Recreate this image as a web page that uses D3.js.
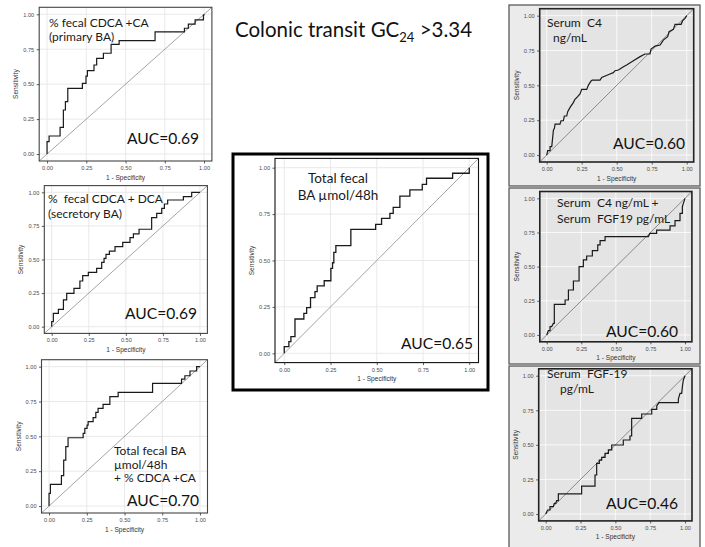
<!DOCTYPE html>
<html><head><meta charset="utf-8">
<script src="https://cdn.jsdelivr.net/npm/d3@7"></script>
<style>
body{margin:0;background:#fff}
svg{display:block}
text{white-space:pre}
</style>
</head><body>
<svg id="c" width="705" height="547"></svg>
<script>
// ---- data ----
const tickValues = [0, 0.25, 0.5, 0.75, 1];
const tickLabels = ["0.00", "0.25", "0.50", "0.75", "1.00"];
const xAxisTitle = "1 - Specificity";
const yAxisTitle = "Sensitivity";

// step ROC curves: [fpr, tpr] at the top of every vertical rise
const rocPrimaryBA = [[0,0],[0,0.088],[0.013,0.129],[0.083,0.191],[0.104,0.315],[0.117,0.375],[0.132,0.47],[0.225,0.506],[0.248,0.558],[0.257,0.597],[0.299,0.637],[0.316,0.685],[0.359,0.721],[0.408,0.785],[0.459,0.811],[0.688,0.874],[0.875,0.9],[0.9,0.93],[0.943,0.96],[0.996,0.995],[1,1]];
const rocSecretoryBA = [[0,0],[0,0.037],[0.011,0.099],[0.045,0.129],[0.079,0.199],[0.101,0.248],[0.15,0.285],[0.19,0.34],[0.209,0.38],[0.247,0.404],[0.303,0.434],[0.337,0.479],[0.353,0.509],[0.366,0.538],[0.389,0.563],[0.427,0.596],[0.479,0.628],[0.528,0.663],[0.551,0.69],[0.589,0.725],[0.674,0.811],[0.708,0.844],[0.742,0.881],[0.76,0.913],[0.782,0.943],[0.888,0.968],[0.944,1],[1,1]];
const rocTotalPlusPrimary = [[0,0],[0,0.091],[0.009,0.155],[0.082,0.218],[0.097,0.33],[0.111,0.426],[0.126,0.49],[0.226,0.522],[0.237,0.557],[0.252,0.581],[0.259,0.605],[0.292,0.634],[0.31,0.672],[0.325,0.701],[0.358,0.73],[0.403,0.785],[0.458,0.816],[0.686,0.88],[0.878,0.911],[0.9,0.935],[0.934,0.969],[0.978,1],[1,1]];
const rocTotalBA = [[0,0],[0,0.036],[0.025,0.063],[0.036,0.09],[0.058,0.185],[0.106,0.215],[0.121,0.246],[0.142,0.3],[0.166,0.332],[0.178,0.363],[0.216,0.391],[0.252,0.458],[0.261,0.488],[0.268,0.544],[0.279,0.58],[0.36,0.668],[0.494,0.695],[0.526,0.727],[0.571,0.754],[0.589,0.786],[0.625,0.847],[0.679,0.88],[0.746,0.91],[0.769,0.943],[0.91,0.97],[1,1]];
// ROC curves with ties: every vertex
const rocC4 = [[0,0],[0.007,0.031],[0.024,0.031],[0.024,0.06],[0.036,0.06],[0.048,0.179],[0.055,0.191],[0.06,0.222],[0.095,0.222],[0.102,0.246],[0.119,0.246],[0.126,0.28],[0.143,0.28],[0.15,0.311],[0.167,0.342],[0.19,0.376],[0.202,0.4],[0.221,0.419],[0.238,0.438],[0.25,0.471],[0.286,0.471],[0.298,0.502],[0.317,0.531],[0.326,0.538],[0.381,0.538],[0.393,0.557],[0.452,0.581],[0.476,0.591],[0.488,0.605],[0.512,0.61],[0.548,0.634],[0.571,0.646],[0.619,0.677],[0.667,0.706],[0.702,0.725],[0.738,0.725],[0.745,0.761],[0.774,0.782],[0.81,0.789],[0.833,0.825],[0.864,0.849],[0.874,0.885],[0.905,0.902],[0.917,0.938],[0.96,0.938],[0.971,0.964],[0.988,0.981],[1,1]];
const rocC4FGF19 = [[0,0],[0.012,0.032],[0.024,0.032],[0.024,0.061],[0.036,0.061],[0.048,0.085],[0.055,0.085],[0.055,0.224],[0.133,0.224],[0.133,0.256],[0.157,0.256],[0.157,0.329],[0.193,0.329],[0.193,0.395],[0.234,0.395],[0.234,0.5],[0.265,0.5],[0.265,0.549],[0.289,0.549],[0.289,0.578],[0.33,0.578],[0.33,0.617],[0.369,0.617],[0.369,0.659],[0.386,0.659],[0.386,0.69],[0.422,0.69],[0.422,0.72],[0.735,0.72],[0.747,0.744],[0.795,0.744],[0.795,0.768],[0.892,0.768],[0.892,0.798],[0.928,0.798],[0.928,0.837],[0.964,0.837],[0.964,0.89],[0.981,0.89],[0.981,0.94],[1,1]];
const rocFGF19 = [[0,0],[0.014,0.029],[0.031,0.029],[0.031,0.053],[0.055,0.053],[0.062,0.077],[0.072,0.077],[0.079,0.096],[0.091,0.096],[0.091,0.145],[0.258,0.145],[0.258,0.202],[0.354,0.202],[0.354,0.282],[0.366,0.282],[0.366,0.366],[0.385,0.366],[0.385,0.39],[0.402,0.39],[0.402,0.41],[0.426,0.41],[0.426,0.439],[0.45,0.439],[0.45,0.463],[0.474,0.463],[0.474,0.499],[0.557,0.499],[0.557,0.535],[0.605,0.535],[0.605,0.564],[0.617,0.564],[0.617,0.692],[0.689,0.692],[0.689,0.723],[0.761,0.723],[0.761,0.757],[0.797,0.757],[0.797,0.781],[0.813,0.805],[0.952,0.805],[0.952,0.831],[0.964,0.872],[0.976,0.872],[0.981,0.92],[0.988,0.969],[1,1]];

const panelLabels = [
  ["% fecal CDCA +CA", "(primary BA)"],
  ["%  fecal CDCA + DCA", "(secretory BA)"],
  ["Total fecal BA", "\u00b5mol/48h", "+ % CDCA +CA"],
  ["Total fecal", "BA \u00b5mol/48h"],
  ["Serum  C4", "ng/mL"],
  ["Serum  C4 ng/mL +", "Serum  FGF19 pg/mL"],
  ["Serum  FGF-19", "pg/mL"]
];
const aucLabels = ["AUC=0.69", "AUC=0.69", "AUC=0.70", "AUC=0.65", "AUC=0.60", "AUC=0.60", "AUC=0.46"];

// ---- layout ----
const svg = d3.select("#c");
const FONT = "Lato, 'Open Sans', sans-serif";
const AX = "'Liberation Sans', Arial, sans-serif";

const panels = [
  {data: rocPrimaryBA, step: true, grey: false, r: [39.2, 211.9, 7.3, 161],
   lab: {x: [49, 49], y: [27, 41], size: 12, anchor: "start"}, auc: [199, 144]},
  {data: rocSecretoryBA, step: true, grey: false, r: [44.3, 207.4, 185.6, 333.4],
   lab: {x: [48, 48], y: [203, 218], size: 12, anchor: "start"}, auc: [197, 319]},
  {data: rocTotalPlusPrimary, step: true, grey: false, r: [41.5, 207.5, 359.7, 513],
   lab: {x: [114, 114, 114], y: [455, 468.5, 482], size: 12, anchor: "start"}, auc: [199, 506]},
  {data: rocTotalBA, step: true, grey: false, center: true, r: [275, 478.5, 158.4, 362.6],
   lab: {x: [338, 338], y: [183, 200], size: 13.5, anchor: "middle"}, auc: [473, 349]},
  {data: rocC4, step: false, grey: true, box: [509, 5, 700, 186], r: [539.7, 693.7, 8.7, 162],
   lab: {x: [547, 553], y: [27, 42], size: 12, anchor: "start"}, auc: [685, 149]},
  {data: rocC4FGF19, step: false, grey: true, box: [509, 188, 700, 364], r: [539.8, 691.9, 191.5, 341.8],
   lab: {x: [557, 557], y: [207, 223], size: 12, anchor: "start"}, auc: [678, 337]},
  {data: rocFGF19, step: false, grey: true, box: [509, 366, 700, 550], r: [538.7, 692, 368.8, 520.9],
   lab: {x: [547, 560], y: [378, 393], size: 12, anchor: "start"}, auc: [678, 509]}
];

// center panel thick frame
svg.append("rect").attr("x", 233).attr("y", 154).attr("width", 255).attr("height", 236)
  .attr("fill", "#fff").attr("stroke", "#000").attr("stroke-width", 3);

panels.forEach((p, i) => {
  const [x0, x1, y0, y1] = p.r;
  const g = svg.append("g");
  if (p.box) {
    const [bx0, by0, bx1, by1] = p.box;
    g.append("rect").attr("x", bx0).attr("y", by0).attr("width", bx1 - bx0).attr("height", by1 - by0)
      .attr("fill", "#ebebeb").attr("stroke", "#5a5a5a").attr("stroke-width", 1.3);
  }
  const x = d3.scaleLinear().domain([-0.05, 1.05]).range([x0, x1]);
  const y = d3.scaleLinear().domain([-0.05, 1.05]).range([y1, y0]);

  g.append("rect").attr("x", x0).attr("y", y0).attr("width", x1 - x0).attr("height", y1 - y0)
    .attr("fill", p.grey ? "#e4e4e4" : "#fff");

  const gridColor = p.grey ? "#fafafa" : "#e6e6e6";
  g.append("g").selectAll("line").data(tickValues).join("line")
    .attr("x1", d => x(d)).attr("x2", d => x(d)).attr("y1", y0).attr("y2", y1)
    .attr("stroke", gridColor).attr("stroke-width", 0.9);
  g.append("g").selectAll("line").data(tickValues).join("line")
    .attr("y1", d => y(d)).attr("y2", d => y(d)).attr("x1", x0).attr("x2", x1)
    .attr("stroke", gridColor).attr("stroke-width", 0.9);

  // diagonal reference
  g.append("line").attr("x1", x(-0.05)).attr("y1", y(-0.05)).attr("x2", x(1.05)).attr("y2", y(1.05))
    .attr("stroke", p.grey ? "#808080" : "#9a9a9a").attr("stroke-width", 0.9);

  const line = d3.line().x(d => x(d[0])).y(d => y(d[1]))
    .curve(p.step ? d3.curveStepAfter : d3.curveLinear);
  g.append("path").attr("d", line(p.data)).attr("fill", "none")
    .attr("stroke", "#1a1a1a").attr("stroke-width", p.center ? 1.3 : 1.2);

  g.append("rect").attr("x", x0).attr("y", y0).attr("width", x1 - x0).attr("height", y1 - y0)
    .attr("fill", "none").attr("stroke", p.grey ? "#222" : (p.center ? "#111" : "#444"))
    .attr("stroke-width", p.grey ? 1.6 : 1.1);

  // axes
  const fmt = d => tickLabels[tickValues.indexOf(d)];
  const ax = g.append("g").attr("transform", `translate(0,${y1})`)
    .call(d3.axisBottom(x).tickValues(tickValues).tickFormat(fmt).tickSize(2.5).tickPadding(2.5));
  const ay = g.append("g").attr("transform", `translate(${x0},0)`)
    .call(d3.axisLeft(y).tickValues(tickValues).tickFormat(fmt).tickSize(2.5).tickPadding(2.5));
  [ax, ay].forEach(a => {
    a.select(".domain").remove();
    a.selectAll("line").attr("stroke", "#333").attr("stroke-width", 0.8);
    a.selectAll("text").attr("font-family", AX).attr("font-size", 5.6).attr("fill", "#4d4d4d");
  });

  g.append("text").attr("x", (x0 + x1) / 2).attr("y", y1 + 18.5).attr("text-anchor", "middle")
    .attr("font-family", AX).attr("font-size", 6.6).attr("fill", "#333").text(xAxisTitle);
  g.append("text").attr("transform", `translate(${x0 - 21},${(y0 + y1) / 2}) rotate(-90)`)
    .attr("text-anchor", "middle").attr("font-family", AX).attr("font-size", 6.6).attr("fill", "#333")
    .text(yAxisTitle);

  // annotations
  panelLabels[i].forEach((t, k) => {
    g.append("text").attr("x", p.lab.x[k]).attr("y", p.lab.y[k]).attr("text-anchor", p.lab.anchor)
      .attr("font-family", FONT).attr("font-size", p.lab.size).attr("fill", "#1a1a1a").text(t);
  });
  g.append("text").attr("x", p.auc[0]).attr("y", p.auc[1]).attr("text-anchor", "end")
    .attr("font-family", FONT).attr("font-size", 15.6).attr("fill", "#111").text(aucLabels[i]);
});

// main title
const title = svg.append("text").attr("x", 235).attr("y", 37).attr("font-family", FONT)
  .attr("font-size", 20.5).attr("fill", "#111");
title.append("tspan").text("Colonic transit GC");
title.append("tspan").attr("font-size", 13).attr("dy", 4.5).text("24");
title.append("tspan").attr("dy", -4.5).text(" >3.34");
</script>
</body></html>
